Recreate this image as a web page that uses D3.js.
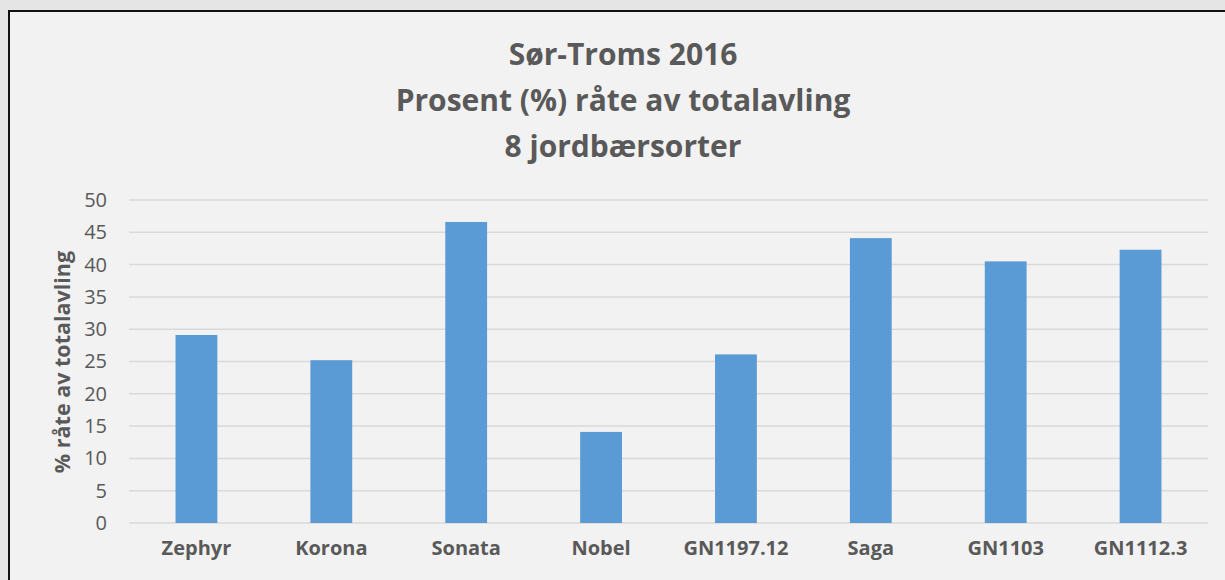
<!DOCTYPE html>
<html>
<head>
<meta charset="utf-8">
<script src="https://cdn.jsdelivr.net/npm/d3@7"></script>
<style>
  html, body { margin: 0; padding: 0; background: #e5e5e5; }
  svg { display: block; }
</style>
</head>
<body>
<svg width="1225" height="580"></svg>
<script>
// values
var sorter = ["Zephyr", "Korona", "Sonata", "Nobel", "GN1197.12", "Saga", "GN1103", "GN1112.3"];
var raate = [29.1, 25.2, 46.6, 14.1, 26.1, 44.1, 40.5, 42.3];
var yTicks = [0, 5, 10, 15, 20, 25, 30, 35, 40, 45, 50];
var titleLines = ["Sør-Troms 2016", "Prosent (%) råte av totalavling", "8 jordbærsorter"];
var yLabel = "% råte av totalavling";

var svg = d3.select("svg"),
    width = +svg.attr("width"),
    height = +svg.attr("height");

var font = "'Open Sans', sans-serif",
    textColor = "#595959";

// chart area with black frame (right/bottom run off the picture)
svg.append("rect")
    .attr("x", 9)
    .attr("y", 11)
    .attr("width", width)
    .attr("height", height)
    .attr("fill", "#f2f2f2")
    .attr("stroke", "#111")
    .attr("stroke-width", 2);

var margin = {left: 129, right: 17, top: 200, bottom: 57};

var x = d3.scaleBand()
    .domain(sorter)
    .range([margin.left, width - margin.right])
    .paddingInner(0.69)
    .paddingOuter(0.345);

var y = d3.scaleLinear()
    .domain([0, 50])
    .range([height - margin.bottom, margin.top]);

// title
svg.append("text")
    .attr("x", 623)
    .attr("y", 65)
    .attr("text-anchor", "middle")
    .attr("font-family", font)
    .attr("font-weight", "bold")
    .attr("font-size", 30)
    .attr("fill", textColor)
    .selectAll("tspan")
    .data(titleLines)
    .enter()
    .append("tspan")
    .attr("x", 623)
    .attr("dy", function (d, i) { return i === 0 ? 0 : 46; })
    .text(function (d) { return d; });

// gridlines
svg.append("g")
    .selectAll("line")
    .data(yTicks)
    .enter()
    .append("line")
    .attr("x1", margin.left)
    .attr("x2", width - margin.right)
    .attr("y1", function (d) { return y(d); })
    .attr("y2", function (d) { return y(d); })
    .attr("stroke", "#d9d9d9")
    .attr("stroke-width", 1.5);

// y axis labels
var yAxis = svg.append("g")
    .attr("transform", "translate(" + (margin.left - 8) + ",0)")
    .call(d3.axisLeft(y).tickValues(yTicks).tickSize(0).tickPadding(14));
yAxis.select(".domain").remove();
yAxis.selectAll("text")
    .attr("font-family", font)
    .attr("font-size", 20)
    .attr("fill", textColor);

// bars
svg.append("g")
    .selectAll("rect")
    .data(raate)
    .enter()
    .append("rect")
    .attr("x", function (d, i) { return x(sorter[i]); })
    .attr("y", function (d) { return y(d); })
    .attr("width", x.bandwidth())
    .attr("height", function (d) { return y(0) - y(d); })
    .attr("fill", "#5b9bd5");

// x axis labels
var xAxis = svg.append("g")
    .attr("transform", "translate(0," + y(0) + ")")
    .call(d3.axisBottom(x).tickSize(0).tickPadding(18));
xAxis.select(".domain").remove();
xAxis.selectAll("text")
    .attr("font-family", font)
    .attr("font-weight", "bold")
    .attr("font-size", 20)
    .attr("fill", textColor);

// y axis title
svg.append("text")
    .attr("transform", "translate(70,362) rotate(-90)")
    .attr("text-anchor", "middle")
    .attr("font-family", font)
    .attr("font-weight", "bold")
    .attr("font-size", 21.5)
    .attr("fill", textColor)
    .text(yLabel);
</script>
</body>
</html>
